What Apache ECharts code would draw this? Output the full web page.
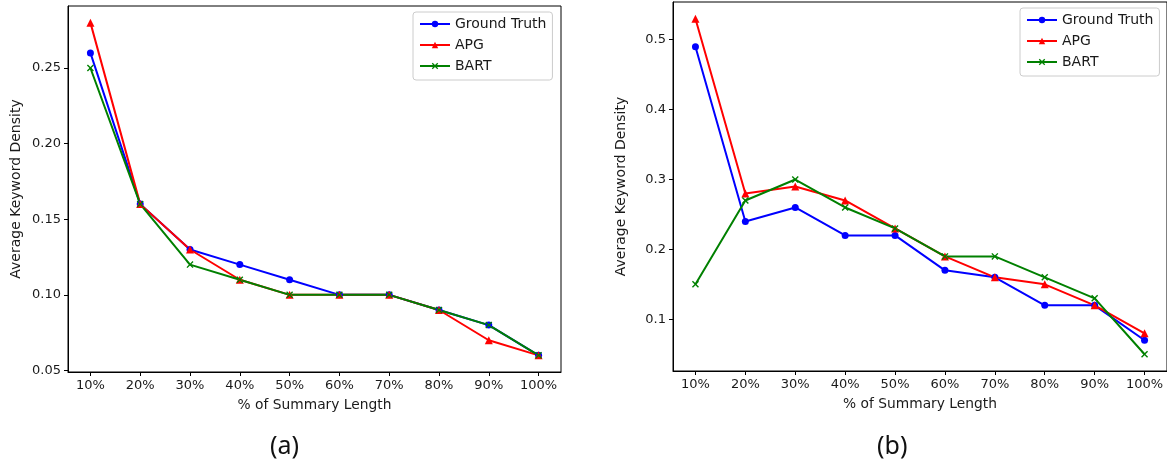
<!DOCTYPE html>
<html>
<head>
<meta charset="utf-8">
<script src="https://cdn.jsdelivr.net/npm/echarts@6/dist/echarts.min.js"></script>
<style>
html,body{margin:0;padding:0;background:#fff;}
#chart{width:1167px;height:461px;}
</style>
</head>
<body>
<div id="chart"></div>
<script>
// ---- data ----
const categories = ['10%','20%','30%','40%','50%','60%','70%','80%','90%','100%'];
const seriesNames = ['Ground Truth','APG','BART'];
// panel (a)
const gtA   = [0.26, 0.16, 0.13, 0.12, 0.11, 0.10, 0.10, 0.09, 0.08, 0.06];
const apgA  = [0.28, 0.16, 0.13, 0.11, 0.10, 0.10, 0.10, 0.09, 0.07, 0.06];
const bartA = [0.25, 0.16, 0.12, 0.11, 0.10, 0.10, 0.10, 0.09, 0.08, 0.06];
// panel (b)
const gtB   = [0.49, 0.24, 0.26, 0.22, 0.22, 0.17, 0.16, 0.12, 0.12, 0.07];
const apgB  = [0.53, 0.28, 0.29, 0.27, 0.23, 0.19, 0.16, 0.15, 0.12, 0.08];
const bartB = [0.15, 0.27, 0.30, 0.26, 0.23, 0.19, 0.19, 0.16, 0.13, 0.05];
const yTicksA = [0.05, 0.10, 0.15, 0.20, 0.25];
const yTicksB = [0.1, 0.2, 0.3, 0.4, 0.5];
const xTitle = '% of Summary Length';
const yTitle = 'Average Keyword Density';
const captions = ['(a)', '(b)'];

// ---- styling ----
const FONT = 'DejaVu Sans';
const TXT = '#1a1a1a';
const colors = ['#0000ff', '#ff0000', '#008000'];
const xSym = 'path://M0,1.4L1.4,0L5,3.6L8.6,0L10,1.4L6.4,5L10,8.6L8.6,10L5,6.4L1.4,10L0,8.6L3.6,5Z';
const symbols = ['circle', 'triangle', xSym];
const symSizes = [7, 8, 7];

function pairs(arr){ return arr.map((v,i)=>[i, v]); }

function xAxis(gridIndex){
  return {
    type:'value', gridIndex, min:-0.45, max:9.45,
    splitLine:{show:false},
    axisLine:{show:true, onZero:false, lineStyle:{color:'#000', width:1}},
    axisTick:{show:true, length:4, lineStyle:{color:'#000'}, customValues:categories.map((c,i)=>i)},
    axisLabel:{color:TXT, fontFamily:FONT, fontSize:13, margin:7,
      customValues:categories.map((c,i)=>i),
      formatter:(v)=>categories[Math.round(v)]},
    name:xTitle, nameLocation:'middle', nameGap:26,
    nameTextStyle:{color:TXT, fontFamily:FONT, fontSize:13.8}
  };
}
function yAxis(gridIndex, min, max, ticks, digits){
  return {
    type:'value', gridIndex, min, max,
    splitLine:{show:false},
    axisLine:{show:true, onZero:false, lineStyle:{color:'#000', width:1}},
    axisTick:{show:true, length:4, lineStyle:{color:'#000'}, customValues:ticks},
    axisLabel:{color:TXT, fontFamily:FONT, fontSize:13, margin:7,
      customValues:ticks, formatter:(v)=>v.toFixed(digits)},
    name:yTitle, nameLocation:'middle', nameGap:45, nameRotate:90,
    nameTextStyle:{color:TXT, fontFamily:FONT, fontSize:14}
  };
}
function mkSeries(data, idx, axisIdx){
  return {
    type:'line', name:seriesNames[idx], xAxisIndex:axisIdx, yAxisIndex:axisIdx,
    data:pairs(data), symbol:symbols[idx], symbolSize:symSizes[idx],
    showAllSymbol:true, animation:false,
    lineStyle:{color:colors[idx], width:2},
    itemStyle:{color:colors[idx], borderWidth:0},
    emphasis:{disabled:true}
  };
}
function legend(left, top){
  return {
    orient:'vertical', left, top,
    data:seriesNames,
    itemWidth:30, itemHeight:8, itemGap:5,
    padding:[4,6,6,6],
    backgroundColor:'rgba(255,255,255,0.85)',
    borderColor:'#cccccc', borderWidth:1, borderRadius:3,
    textStyle:{color:TXT, fontFamily:FONT, fontSize:14, lineHeight:16},
    selectedMode:false
  };
}

const chart = echarts.init(document.getElementById('chart'), null, {renderer:'canvas'});
chart.setOption({
  backgroundColor:'#fff',
  animation:false,
  grid:[
    {left:68, right:606, top:6, bottom:89, show:true, borderColor:'#000', borderWidth:1, containLabel:false},
    {left:673, right:-1, top:2, bottom:90, show:true, borderColor:'#000', borderWidth:1, containLabel:false}
  ],
  xAxis:[xAxis(0), xAxis(1)],
  yAxis:[yAxis(0, 0.049, 0.291, yTicksA, 2), yAxis(1, 0.026, 0.554, yTicksB, 1)],
  legend:[legend(413, 12), legend(1020, 8)],
  series:[
    mkSeries(gtA,0,0), mkSeries(apgA,1,0), mkSeries(bartA,2,0),
    mkSeries(gtB,0,1), mkSeries(apgB,1,1), mkSeries(bartB,2,1)
  ],
  graphic:[
    {type:'text', left:270, top:434, style:{text:captions[0], fill:'#111', font:'25px "Noto Sans"'}},
    {type:'text', left:877, top:434, style:{text:captions[1], fill:'#111', font:'25px "Noto Sans"'}}
  ]
});
</script>
</body>
</html>
